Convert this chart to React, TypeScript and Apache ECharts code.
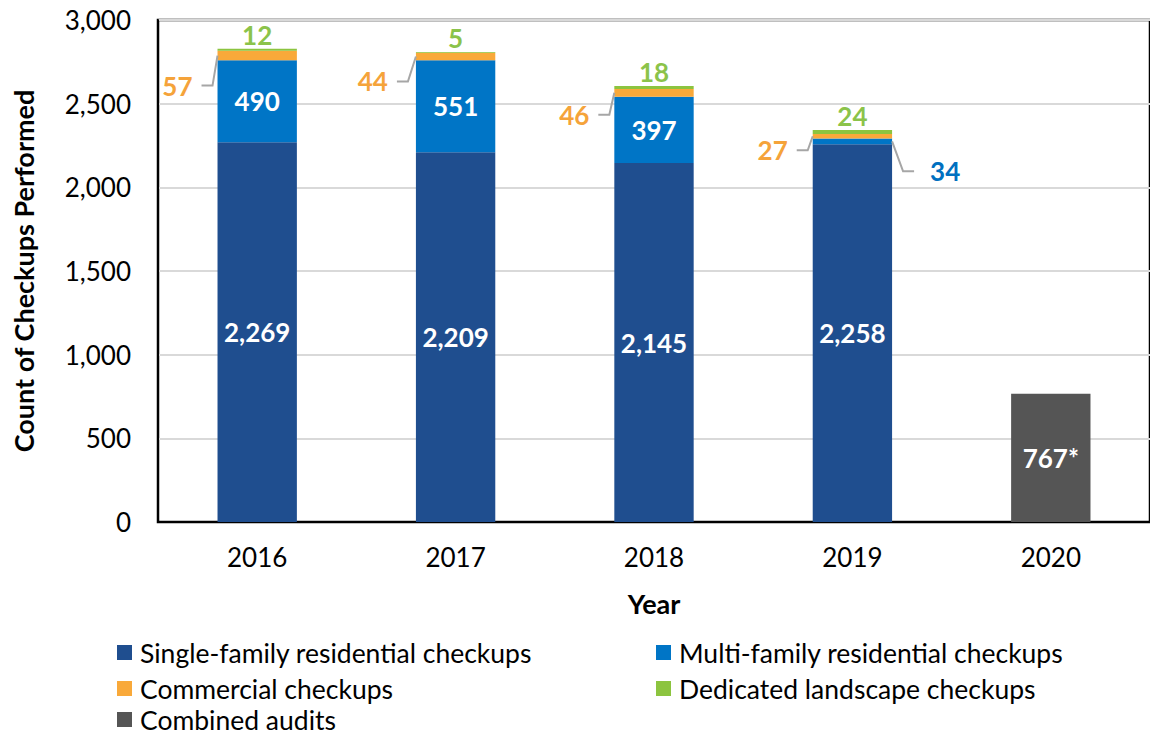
import React, { useEffect, useRef } from "react";
import * as echarts from "echarts";

const years = ["2016", "2017", "2018", "2019", "2020"];
const singleFamily = [2269, 2209, 2145, 2258, null];
const multiFamily = [490, 551, 397, 34, null];
const commercial = [57, 44, 46, 27, null];
const landscape = [12, 5, 18, 24, null];
const combined = [null, null, null, null, 767];
const yTicks = [0, 500, 1000, 1500, 2000, 2500, 3000];

const SERIES_NAMES = [
  "Single-family residential checkups",
  "Multi-family residential checkups",
  "Commercial checkups",
  "Dedicated landscape checkups",
  "Combined audits",
];

const FONT = "Lato, 'Noto Sans', sans-serif";
const C_SINGLE = "#1F4E8F";
const C_MULTI = "#0075C6";
const C_COMM = "#F9A93A";
const C_LAND = "#8CC43F";
const C_COMB = "#555555";
const T_ORANGE = "#F5A33A";
const T_GREEN = "#8BC34A";
const T_BLUE = "#0070C0";

// callout styling: [dx of diagonal, dy of diagonal] per year
const commOffsets = [[-5, 30], [-8, 25], [-5, 22], [-5, 14]];
const multiOutside = [false, false, false, true];
const multiOffset = [11, 30];

// legend placement: [seriesIndex, left, top]
const legendSlots = [
  [0, 117, 639],
  [1, 656, 639],
  [2, 117, 675],
  [3, 656, 675],
  [4, 117, 706],
];

const fmt = (v: number) => v.toLocaleString("en-US");

export default function App() {
  const ref = useRef<HTMLDivElement>(null);
  useEffect(() => {
    document.body.style.margin = "0";
    const chart = echarts.init(ref.current!, null, { renderer: "svg" });

    // callout items: [catIndex, anchorValue, label, side(-1 left,1 right), dx, dy, color]
    const callouts: any[] = [];
    commercial.forEach((c, i) => {
      if (c == null) return;
      const base = (singleFamily[i] as number) + (multiFamily[i] as number);
      callouts.push([i, base + c / 2, String(c), -1, commOffsets[i][0], commOffsets[i][1], T_ORANGE]);
    });
    multiFamily.forEach((m, i) => {
      if (m == null || !multiOutside[i]) return;
      const base = singleFamily[i] as number;
      callouts.push([i, base + m / 2, String(m), 1, multiOffset[0], multiOffset[1], T_BLUE]);
    });

    const boldLabel = {
      fontFamily: FONT,
      fontWeight: "bold" as const,
      fontSize: 26,
    };

    const option: any = {
      animation: false,
      textStyle: { fontFamily: FONT },
      grid: {
        left: 158,
        top: 20,
        right: -6,
        bottom: 214,
        show: true,
        borderColor: "#000",
        borderWidth: 2.5,
        backgroundColor: "transparent",
      },
      legend: legendSlots.map(([si, left, top]) => ({
        data: [SERIES_NAMES[si]],
        orient: "horizontal",
        left,
        top,
        padding: 0,
        icon: "rect",
        itemWidth: 15,
        itemHeight: 15,
        textStyle: { fontFamily: FONT, fontSize: 26.5, color: "#000", lineHeight: 24, padding: [0, 0, 0, 3] },
      })),
      xAxis: {
        type: "category",
        data: years,
        axisLine: { lineStyle: { color: "#000", width: 2 } },
        axisTick: { show: false },
        axisLabel: { fontFamily: FONT, fontSize: 26, color: "#000", margin: 22 },
        name: "Year",
        nameLocation: "middle",
        nameGap: 68,
        nameTextStyle: { fontFamily: FONT, fontSize: 27, fontWeight: "bold", color: "#000" },
      },
      yAxis: {
        type: "value",
        min: yTicks[0],
        max: yTicks[yTicks.length - 1],
        interval: 500,
        axisLine: { show: true, lineStyle: { color: "#000", width: 2 } },
        axisTick: { show: false },
        splitLine: { lineStyle: { color: "#D9D9D9", width: 2 } },
        axisLabel: { fontFamily: FONT, fontSize: 26, color: "#000", margin: 27, formatter: (v: number) => fmt(v) },
        name: "Count of Checkups Performed",
        nameLocation: "middle",
        nameGap: 121,
        nameTextStyle: { fontFamily: FONT, fontSize: 27, fontWeight: "bold", color: "#000" },
      },
      series: [
        {
          name: SERIES_NAMES[0],
          type: "bar",
          stack: "total",
          barWidth: "40%",
          data: singleFamily,
          itemStyle: { color: C_SINGLE },
          label: { show: true, position: "inside", color: "#fff", ...boldLabel, formatter: (p: any) => fmt(p.value) },
        },
        {
          name: SERIES_NAMES[1],
          type: "bar",
          stack: "total",
          data: multiFamily.map((v, i) => ({ value: v, label: { show: !multiOutside[i] } })),
          itemStyle: { color: C_MULTI },
          label: { show: true, position: "inside", color: "#fff", ...boldLabel, formatter: (p: any) => fmt(p.value) },
        },
        {
          name: SERIES_NAMES[2],
          type: "bar",
          stack: "total",
          data: commercial,
          itemStyle: { color: C_COMM },
        },
        {
          name: SERIES_NAMES[3],
          type: "bar",
          stack: "total",
          data: landscape,
          itemStyle: { color: C_LAND },
          label: { show: true, position: "top", distance: 1, color: T_GREEN, ...boldLabel },
        },
        {
          name: SERIES_NAMES[4],
          type: "bar",
          stack: "total",
          data: combined,
          itemStyle: { color: C_COMB },
          label: { show: true, position: "inside", color: "#fff", ...boldLabel, formatter: (p: any) => fmt(p.value) + "*" },
        },
        {
          name: "callouts",
          type: "custom",
          data: callouts,
          silent: true,
          z: 10,
          renderItem: (params: any, api: any) => {
            const idx = params.dataIndex;
            const item = callouts[idx];
            const pt = api.coord([api.value(0), api.value(1)]);
            const band = api.size([1, 0])[0];
            const halfW = band * 0.2;
            const side = item[3];
            const ax = pt[0] + side * halfW;
            const ay = pt[1];
            const p1x = ax + side * Math.abs(item[4]);
            const p1y = ay + item[5];
            const p2x = p1x + side * 11;
            return {
              type: "group",
              children: [
                {
                  type: "polyline",
                  shape: { points: [[ax, ay], [p1x, p1y], [p2x, p1y]] },
                  style: { stroke: "#A6A6A6", lineWidth: 2, fill: "none" },
                },
                {
                  type: "text",
                  style: {
                    text: item[2],
                    x: p2x + side * (side < 0 ? 9 : 16),
                    y: p1y,
                    align: side < 0 ? "right" : "left",
                    verticalAlign: "middle",
                    fill: item[6],
                    font: `bold 26px ${FONT}`,
                  },
                },
              ],
            };
          },
        },
      ],
    };
    chart.setOption(option);
    return () => chart.dispose();
  }, []);
  return <div ref={ref} style={{ width: 1150, height: 736 }} />;
}
